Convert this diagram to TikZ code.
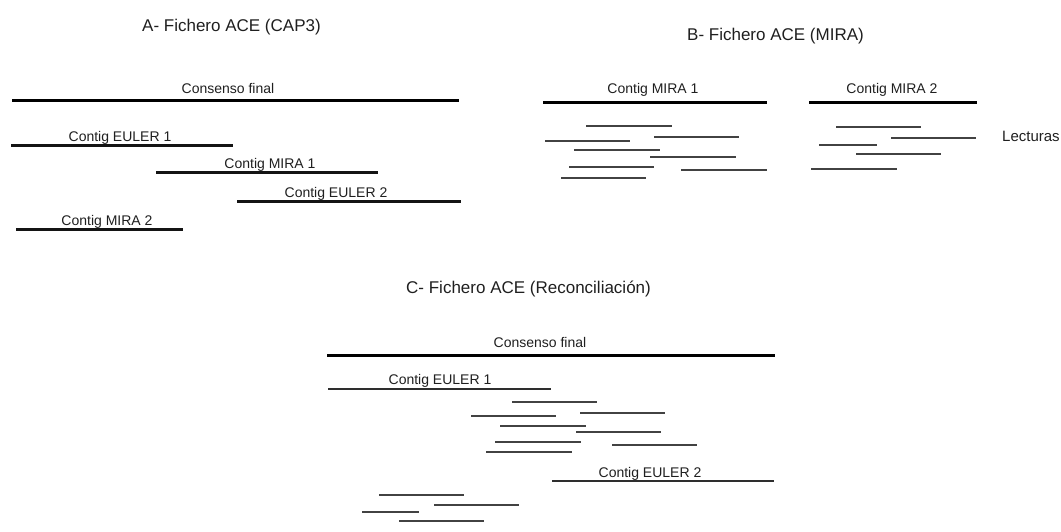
\documentclass[tikz,border=0pt]{standalone}
\usepackage{fontspec}
\setmainfont{Liberation Sans}
\begin{document}
\begin{tikzpicture}[x=1pt,y=-1pt,
  title/.style={anchor=base west,inner sep=0pt,font=\fontsize{17}{19}\selectfont,text=black!88},
  lab/.style={anchor=base,inner sep=0pt,font=\fontsize{14}{16}\selectfont,text=black!88},
  consensus/.style={line width=3pt,black},
  contig/.style={line width=3pt,black!92},
  contigthin/.style={line width=2pt,black!82},
  read/.style={line width=2pt,black!74}]
\useasboundingbox (0,0) rectangle (1061,531);

% ---- A: CAP3 ----
\node[title] (tA) at (142,31.5) {A- Fichero ACE (CAP3)};
\draw[consensus] (12,100.5) -- (459,100.5);
\node[lab] (cA) at (228,93.5) {Consenso final};
\draw[contig] (11,145.5) -- (233,145.5);
\node[lab] (e1A) at (120,141) {Contig EULER 1};
\draw[contig] (156,172.5) -- (378,172.5);
\node[lab] (m1A) at (270,168) {Contig MIRA 1};
\draw[contig] (237,201.5) -- (461,201.5);
\node[lab] (e2A) at (336,197) {Contig EULER 2};
\draw[contig] (16,229.5) -- (183,229.5);
\node[lab] (m2A) at (107,225) {Contig MIRA 2};

% ---- B: MIRA ----
\node[title] (tB) at (687,40) {B- Fichero ACE (MIRA)};
\draw[consensus] (543,102.5) -- (767,102.5);
\node[lab] (m1B) at (653,93.5) {Contig MIRA 1};
\draw[consensus] (809,102.5) -- (977,102.5);
\node[lab] (m2B) at (892,93.5) {Contig MIRA 2};
\foreach \xa/\xb/\yy in {586/672/126, 654/739/137, 545/630/141, 574/660/150,
                          650/736/157, 569/654/167, 681/767/170, 561/646/178,
                          836/921/127, 891/976/138, 819/877/145, 856/941/154, 811/897/169}
  \draw[read] (\xa,\yy) -- (\xb,\yy);
\node[lab,anchor=base west,font=\fontsize{15}{17}\selectfont] (lec) at (1002,141) {Lecturas};

% ---- C: Reconciliation ----
\node[title] (tC) at (406,293.5) {C- Fichero ACE (Reconciliación)};
\draw[consensus] (327,355.5) -- (775,355.5);
\node[lab] (cC) at (540,347) {Consenso final};
\draw[contigthin] (328,389) -- (551,389);
\node[lab] (e1C) at (440,384.5) {Contig EULER 1};
\foreach \xa/\xb/\yy in {512/597/402, 580/665/413, 471/556/416, 500/586/426,
                          576/661/432, 495/581/442, 612/697/445, 486/572/452,
                          379/464/495, 434/519/505, 362/419/512, 399/484/521}
  \draw[read] (\xa,\yy) -- (\xb,\yy);
\draw[contigthin] (552,481) -- (774,481);
\node[lab] (e2C) at (650,477.5) {Contig EULER 2};
\end{tikzpicture}
\end{document}
